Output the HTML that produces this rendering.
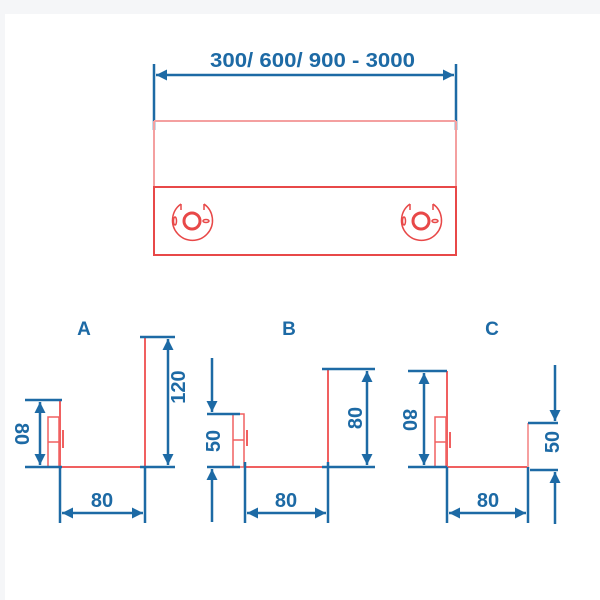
<!DOCTYPE html>
<html><head><meta charset="utf-8"><style>
html,body{margin:0;padding:0;background:#fff}
svg{display:block}
text{font-family:"Liberation Sans",Arial,sans-serif;font-weight:bold;fill:#1d6aa5}
</style></head><body>
<svg width="600" height="600" viewBox="0 0 600 600" xmlns="http://www.w3.org/2000/svg">
<defs>
<marker id="ar" viewBox="0 0 10 10" refX="10" refY="5" markerWidth="20" markerHeight="11" markerUnits="userSpaceOnUse" orient="auto-start-reverse">
<path d="M0,0 L10,5 L0,10 z" fill="#1d6aa5"/></marker>
</defs>
<rect x="0" y="0" width="600" height="14" fill="#f5f6f8"/>
<rect x="0" y="0" width="5" height="600" fill="#f5f6f8"/>

<!-- top -->
<text x="210" y="67" font-size="20" textLength="205" lengthAdjust="spacingAndGlyphs">300/ 600/ 900 - 3000</text>
<g stroke="#1d6aa5" stroke-width="2.5" fill="none">
<line x1="154" y1="64" x2="154" y2="130"/>
<line x1="456" y1="64" x2="456" y2="130"/>
<line x1="156" y1="75" x2="454" y2="75" marker-start="url(#ar)" marker-end="url(#ar)"/>
</g>
<g stroke="#f4a0a0" stroke-width="2" fill="none">
<line x1="154" y1="121" x2="456" y2="121"/>
<line x1="154" y1="121" x2="154" y2="187"/>
<line x1="456" y1="121" x2="456" y2="187"/>
</g>
<rect x="154" y="187" width="302" height="68" fill="none" stroke="#e84848" stroke-width="2"/>
<g stroke="#e84848" stroke-width="1.5" fill="none">
<path d="M181,204 A20,20 0 1 0 204,204"/>
<line x1="181" y1="204" x2="181" y2="210"/><line x1="204" y1="204" x2="204" y2="210"/>
<circle cx="192" cy="221" r="8" stroke-width="3"/>
<ellipse cx="175" cy="221" rx="1.5" ry="4"/>
<ellipse cx="206" cy="221" rx="3" ry="1.5"/>
<path d="M410,204 A20,20 0 1 0 433,204"/>
<line x1="410" y1="204" x2="410" y2="210"/><line x1="433" y1="204" x2="433" y2="210"/>
<circle cx="421" cy="221" r="8" stroke-width="3"/>
<ellipse cx="404" cy="221" rx="1.5" ry="4"/>
<ellipse cx="435" cy="221" rx="3" ry="1.5"/>
</g>

<!-- A -->
<text x="84" y="335" font-size="19" text-anchor="middle">A</text>
<g stroke="#f06060" stroke-width="2" fill="none">
<line x1="60" y1="467" x2="145" y2="467"/>
<line x1="145" y1="337" x2="145" y2="467"/>
<line x1="60" y1="400" x2="60" y2="467"/>
<rect x="48" y="417" width="11" height="50" stroke-width="1.5"/>
<line x1="48" y1="442" x2="59" y2="442" stroke-width="1.5"/>
<line x1="63" y1="430" x2="63" y2="448" stroke-width="2"/>
</g>
<g stroke="#1d6aa5" stroke-width="2.5" fill="none">
<line x1="140" y1="337" x2="175" y2="337"/>
<line x1="140" y1="467" x2="175" y2="467"/>
<line x1="168" y1="339" x2="168" y2="465" marker-start="url(#ar)" marker-end="url(#ar)"/>
<line x1="25" y1="400" x2="62" y2="400"/>
<line x1="25" y1="467" x2="62" y2="467"/>
<line x1="40" y1="402" x2="40" y2="465" marker-start="url(#ar)" marker-end="url(#ar)"/>
<line x1="60" y1="467" x2="60" y2="523"/>
<line x1="145" y1="467" x2="145" y2="523"/>
<line x1="62" y1="513" x2="143" y2="513" marker-start="url(#ar)" marker-end="url(#ar)"/>
</g>
<text x="102" y="507" font-size="20" text-anchor="middle">80</text>
<text transform="translate(185,387) rotate(-90)" font-size="20" text-anchor="middle">120</text>
<text transform="translate(15,434) rotate(90)" font-size="20" text-anchor="middle">80</text>

<!-- B -->
<text x="289" y="335" font-size="19" text-anchor="middle">B</text>
<g stroke="#f06060" stroke-width="2" fill="none">
<line x1="245" y1="467" x2="328" y2="467"/>
<line x1="328" y1="369" x2="328" y2="467"/>
<rect x="233" y="414" width="11" height="53" stroke-width="1.5"/>
<line x1="233" y1="440" x2="244" y2="440" stroke-width="1.5"/>
<line x1="247" y1="430" x2="247" y2="446"/>
</g>
<g stroke="#1d6aa5" stroke-width="2.5" fill="none">
<line x1="207" y1="414" x2="240" y2="414"/>
<line x1="207" y1="467" x2="240" y2="467"/>
<line x1="212" y1="358" x2="212" y2="412" marker-end="url(#ar)"/>
<line x1="212" y1="522" x2="212" y2="469" marker-end="url(#ar)"/>
<line x1="322" y1="369" x2="375" y2="369"/>
<line x1="322" y1="467" x2="375" y2="467"/>
<line x1="367" y1="371" x2="367" y2="465" marker-start="url(#ar)" marker-end="url(#ar)"/>
<line x1="245" y1="462" x2="245" y2="523"/>
<line x1="328" y1="462" x2="328" y2="523"/>
<line x1="247" y1="513" x2="326" y2="513" marker-start="url(#ar)" marker-end="url(#ar)"/>
</g>
<text x="286" y="507" font-size="20" text-anchor="middle">80</text>
<text transform="translate(220,441) rotate(-90)" font-size="20" text-anchor="middle">50</text>
<text transform="translate(362,418) rotate(-90)" font-size="20" text-anchor="middle">80</text>

<!-- C -->
<text x="492" y="335" font-size="19" text-anchor="middle">C</text>
<g stroke="#f06060" stroke-width="2" fill="none">
<line x1="447" y1="467" x2="528" y2="467"/>
<line x1="447" y1="371" x2="447" y2="467"/>
<line x1="528" y1="423" x2="528" y2="467" stroke="#f6a0a0"/>
<rect x="435" y="417" width="11" height="50" stroke-width="1.5"/>
<line x1="435" y1="442" x2="446" y2="442" stroke-width="1.5"/>
<line x1="450" y1="432" x2="450" y2="448"/>
</g>
<g stroke="#1d6aa5" stroke-width="2.5" fill="none">
<line x1="408" y1="371" x2="447" y2="371"/>
<line x1="408" y1="467" x2="447" y2="467"/>
<line x1="424" y1="373" x2="424" y2="465" marker-start="url(#ar)" marker-end="url(#ar)"/>
<line x1="528" y1="423" x2="558" y2="423"/>
<line x1="530" y1="470" x2="558" y2="470"/>
<line x1="555" y1="365" x2="555" y2="421" marker-end="url(#ar)"/>
<line x1="555" y1="524" x2="555" y2="472" marker-end="url(#ar)"/>
<line x1="447" y1="467" x2="447" y2="523"/>
<line x1="528" y1="467" x2="528" y2="523"/>
<line x1="449" y1="513" x2="526" y2="513" marker-start="url(#ar)" marker-end="url(#ar)"/>
</g>
<text x="488" y="507" font-size="20" text-anchor="middle">80</text>
<text transform="translate(403,420) rotate(90)" font-size="20" text-anchor="middle">80</text>
<text transform="translate(559,442) rotate(-90)" font-size="20" text-anchor="middle">50</text>
</svg>
</body></html>
